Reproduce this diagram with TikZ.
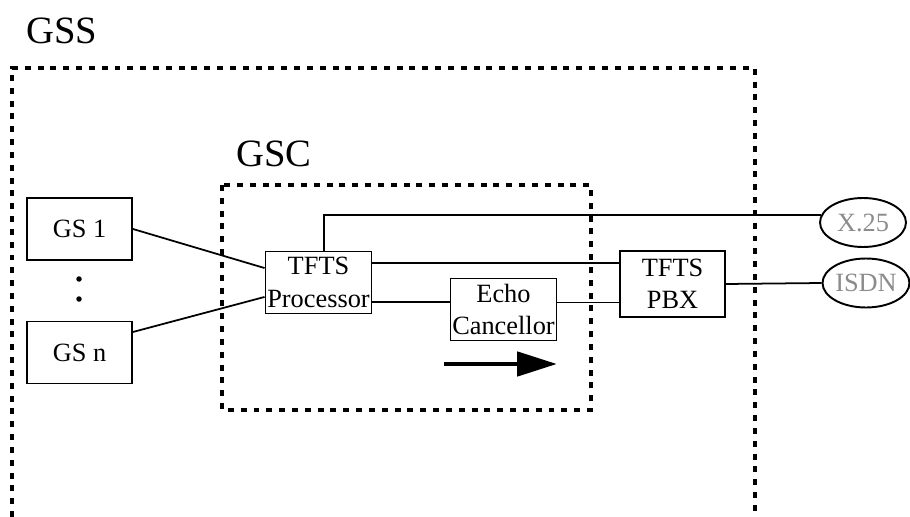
\documentclass[tikz,border=0pt]{standalone}
\usepackage{fontspec}
\setmainfont{Liberation Serif}
\usetikzlibrary{shapes.geometric,calc,arrows.meta}

\begin{document}
\begin{tikzpicture}[x=0.02cm, y=-0.02cm, >=Triangle,
  box/.style={draw, line width=1.1pt, minimum width=2.1cm, minimum height=1.24cm, inner sep=1pt, align=center, font=\fontsize{15}{18.5}\selectfont},
  net/.style={draw, ellipse, line width=1.1pt, minimum width=1.72cm, minimum height=0.98cm, inner sep=0pt, text=black!45, font=\fontsize{15}{18}\selectfont},
  link/.style={line width=1pt},
  zone/.style={line width=2.8pt, dash pattern=on 3.4pt off 3.9pt},
  zonelabel/.style={font=\fontsize{22}{26}\selectfont},
  dot/.style={circle, fill, inner sep=0pt, minimum size=0.11cm}]
  \useasboundingbox (0,0) rectangle (910,517);

  % Zone labels
  \node[zonelabel] (gsslabel) at (62,31) {GSS};
  \node[zonelabel] (gsclabel) at (274,154) {GSC};

  % Ground stations
  \node[box] (gs1) at (79.5,229) {GS 1};
  \node[dot] (dotA) at (79,279) {};
  \node[dot] (dotB) at (79,299) {};
  \node[box] (gsn) at (79.5,352.5) {GS n};

  % Controller blocks
  \node[box] (proc) at (318.5,282.5) {TFTS\\Processor};
  \node[box] (echo) at (503.5,309.5) {Echo\\Cancellor};
  \node[box, minimum height=1.32cm] (pbx) at (672.5,284) {TFTS\\PBX};

  % External networks
  \node[net] (x25) at (863,222.5) {X.25};
  \node[net] (isdn) at (866,283) {ISDN};

  \draw[link] (gs1.east) -- (proc.165);
  \draw[link] (gsn.21) -- (proc.195);
  \draw[link] (proc.-20) -- (echo.west |- proc.-20);
  \draw[link] (proc.20) -- (pbx.west |- proc.20);
  \draw[link] (echo.east |- pbx.199) -- (pbx.199);
  \draw[link] (proc.80) |- (x25.170);
  \draw[link] (pbx.east) -- (isdn.west);

  % Signal direction
  \coordinate (flowA) at (444,364);
  \coordinate (flowB) at (557,364);
  \draw[line width=2.8pt, -{Triangle[length=0.8cm, width=0.48cm]}] (flowA) -- (flowB);

  % Dashed zones
  \draw[zone] (12,517) -- (12,68) -- (755,68) -- (755,517);
  \draw[zone] (222,185) rectangle (591,410);
\end{tikzpicture}
\end{document}
